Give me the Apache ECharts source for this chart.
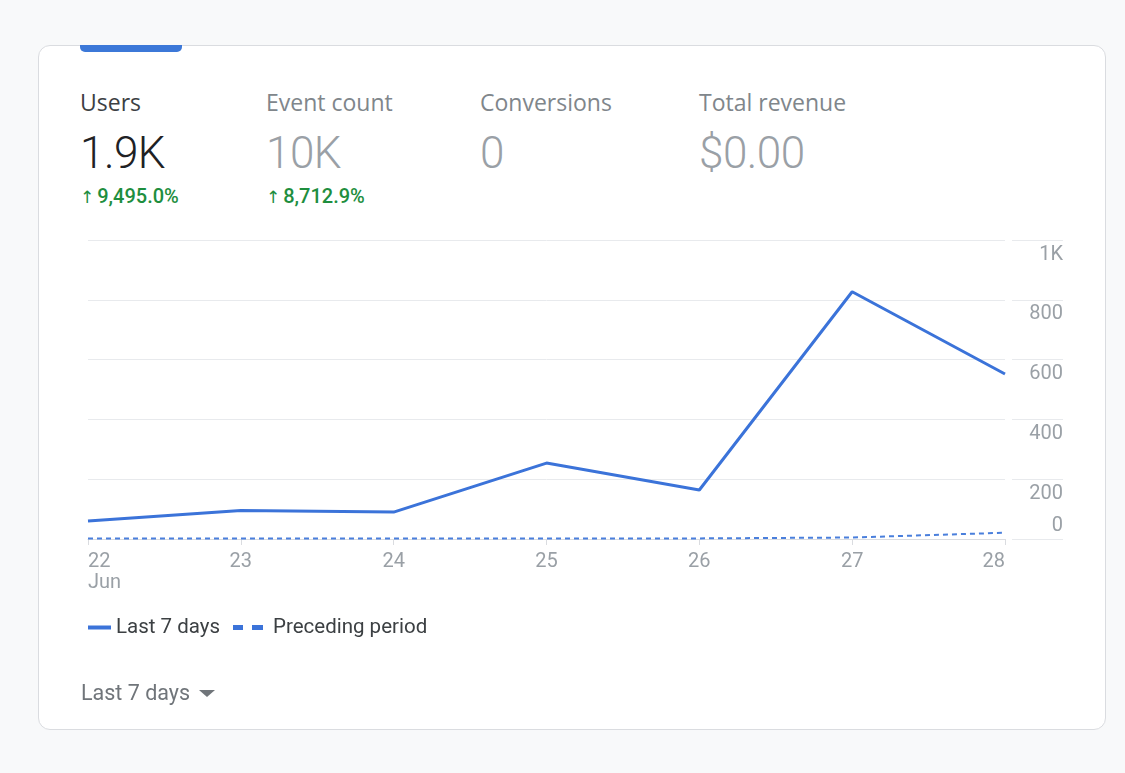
<!DOCTYPE html>
<html>
<head>
<meta charset="utf-8">
<script src="https://cdn.jsdelivr.net/npm/echarts@6/dist/echarts.min.js"></script>
<style>
  html, body { margin:0; padding:0; width:1125px; height:773px; background:#f8f9fa; overflow:hidden; font-family: Roboto, "Noto Sans", sans-serif; }
  #card { position:absolute; left:38px; top:45px; width:1066px; height:683px; background:#fff; border:1px solid #dadce0; border-radius:12px; }
  #tab { position:absolute; left:80px; top:45px; width:102px; height:7px; background:#3c78d8; border-radius:0 0 5px 5px; }
  .kpi { position:absolute; top:0; }
  .kpi .lab { position:absolute; top:91px; font-family:"Open Sans", Roboto, sans-serif; font-size:23px; line-height:23px; white-space:nowrap; color:#80868b; }
  .kpi .val { position:absolute; top:131px; font-size:44px; line-height:44px; font-weight:300; white-space:nowrap; color:#9aa0a6; letter-spacing:-0.5px; }
  .kpi .chg { position:absolute; top:186px; font-size:20px; line-height:20px; font-weight:500; white-space:nowrap; color:#1e8e3e; }
  .kpi .chg .arr { font-size:17px; margin-right:3px; font-family:"DejaVu Sans", sans-serif; }
  .kpi.active .lab { color:#3c4043; }
  .kpi.active .val { color:#202124; }
  #chart { position:absolute; left:0; top:0; width:1125px; height:773px; }
  #range { position:absolute; left:81px; top:681px; font-size:21.5px; line-height:24px; color:#70757a; white-space:nowrap; }
  #range .tri { display:inline-block; width:0; height:0; border-left:8px solid transparent; border-right:8px solid transparent; border-top:7px solid #70757a; margin-left:9px; vertical-align:middle; position:relative; top:-1px; }
</style>
</head>
<body>
<div id="card"></div>
<div id="tab"></div>
<div id="kpis"></div>
<div id="chart"></div>
<div id="range">Last 7 days<span class="tri"></span></div>
<script>
// ---- data ----
const kpiLabels  = ['Users', 'Event count', 'Conversions', 'Total revenue'];
const kpiValues  = ['1.9K', '10K', '0', '$0.00'];
const kpiChanges = ['9,495.0%', '8,712.9%', '', ''];
const kpiLeft    = [80, 266, 480, 699];

const days = ['22', '23', '24', '25', '26', '27', '28'];
const monthLabel = 'Jun';
const last7Days = [60, 95, 90, 254, 164, 827, 552];
const precedingPeriod = [2, 2, 2, 2, 2, 5, 21];
const yTicks = [0, 200, 400, 600, 800, 1000];
const seriesNames = ['Last 7 days', 'Preceding period'];

// ---- KPI header (HTML text) ----
const kpiWrap = document.getElementById('kpis');
kpiLabels.forEach((lab, i) => {
  const d = document.createElement('div');
  d.className = 'kpi' + (i === 0 ? ' active' : '');
  d.style.left = kpiLeft[i] + 'px';
  let html = '<div class="lab">' + lab + '</div><div class="val">' + kpiValues[i] + '</div>';
  if (kpiChanges[i]) html += '<div class="chg"><span class="arr">↑</span>' + kpiChanges[i] + '</div>';
  d.innerHTML = html;
  kpiWrap.appendChild(d);
});

// ---- chart ----
const chart = echarts.init(document.getElementById('chart'), null, { renderer: 'canvas' });
const lineColor = '#3b73d9';
const gridColor = '#e8eaed';
const labelColor = '#9aa0a6';

const option = {
  animation: false,
  backgroundColor: 'transparent',
  grid: [
    { left: 88, top: 240, width: 917, height: 299, containLabel: false },
    { left: 1012, top: 240, width: 51, height: 299, containLabel: false }
  ],
  xAxis: [
    {
      type: 'category', gridIndex: 0, data: days, boundaryGap: false,
      axisLine: { show: true, lineStyle: { color: '#dadce0', width: 1 } },
      axisTick: { show: true, length: 6, lineStyle: { color: '#dadce0' } },
      axisLabel: {
        color: labelColor, fontSize: 20, lineHeight: 21, margin: 12,
        fontFamily: 'Roboto',
        alignMinLabel: 'left', alignMaxLabel: 'right',
        formatter: (v, i) => i === 0 ? v + '\n' + monthLabel : v
      },
      splitLine: { show: false }
    },
    { type: 'value', gridIndex: 1, show: false }
  ],
  yAxis: [
    {
      type: 'value', gridIndex: 0, min: yTicks[0], max: yTicks[yTicks.length - 1], interval: 200,
      axisLabel: { show: false }, axisLine: { show: false }, axisTick: { show: false },
      splitLine: { show: true, lineStyle: { color: gridColor, width: 1 } }
    },
    {
      type: 'value', gridIndex: 1, position: 'right', min: yTicks[0], max: yTicks[yTicks.length - 1], interval: 200,
      axisLine: { show: false }, axisTick: { show: false },
      splitLine: { show: true, lineStyle: { color: gridColor, width: 1 } },
      axisLabel: {
        inside: true, margin: 0, align: 'right', verticalAlign: 'middle',
        formatter: v => v === 0 ? '{z|0}' : (v >= 1000 ? '{a|' + (v / 1000) + 'K}' : '{a|' + v + '}'),
        rich: {
          a: { color: labelColor, fontSize: 20, fontFamily: 'Roboto', padding: [29, 0, 0, 0], align: 'right' },
          z: { color: labelColor, fontSize: 20, fontFamily: 'Roboto', padding: [0, 0, 27, 0], align: 'right' }
        }
      }
    }
  ],
  legend: [
    {
      data: [{ name: seriesNames[0], icon: 'rect' }],
      left: 88, top: 617, padding: 0, itemWidth: 23, itemHeight: 4,
      textStyle: { color: '#3c4043', fontSize: 20.5, fontFamily: 'Roboto' },
      selectedMode: false
    },
    {
      data: [{ name: seriesNames[1], icon: 'path://M0,0H10V5H0Z M19,0H30V5H19Z' }],
      left: 233, top: 617, padding: 0, itemWidth: 30, itemHeight: 5,
      textStyle: { color: '#3c4043', fontSize: 20.5, fontFamily: 'Roboto', padding: [0, 0, 0, 5] },
      selectedMode: false
    }
  ],
  series: [
    {
      name: seriesNames[0], type: 'line', xAxisIndex: 0, yAxisIndex: 0,
      data: last7Days, symbol: 'none', smooth: false,
      itemStyle: { color: lineColor },
      lineStyle: { color: lineColor, width: 3 }
    },
    {
      name: seriesNames[1], type: 'line', xAxisIndex: 0, yAxisIndex: 0,
      data: precedingPeriod, symbol: 'none', smooth: false,
      itemStyle: { color: lineColor },
      lineStyle: { color: '#4a7fdc', width: 2, type: [5, 4] }
    }
  ]
};
chart.setOption(option);
</script>
</body>
</html>
